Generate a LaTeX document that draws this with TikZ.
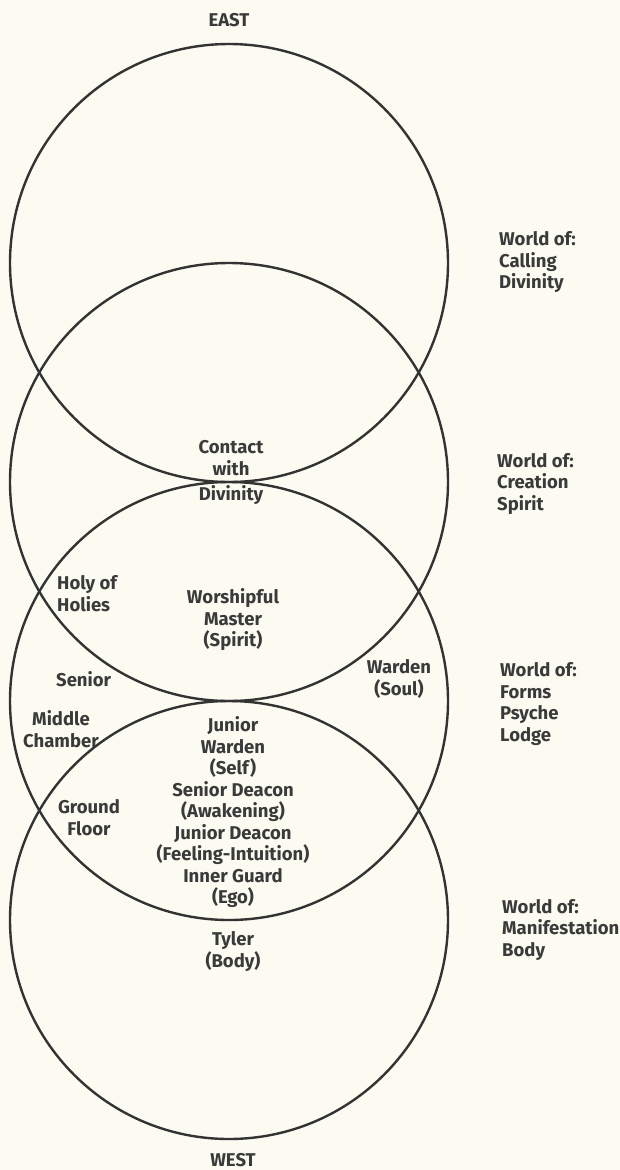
\documentclass[tikz,border=0pt]{standalone}
\usepackage{fontspec}
\setmainfont{Fira Sans}
\definecolor{paper}{HTML}{FCFBF1}
\definecolor{ink}{HTML}{333333}
\definecolor{txt}{HTML}{3A3A3A}
\begin{document}
\begin{tikzpicture}[x=1pt,y=-1pt,
  ring/.style={draw=ink,line width=2.4pt},
  lbl/.style={inner sep=0pt,text=txt,font=\fontsize{18.5}{21.5}\selectfont\bfseries,align=center},
  lbll/.style={lbl,align=left,anchor=west}]
\fill[paper] (0,0) rectangle (620,1170);
\useasboundingbox (0,0) rectangle (620,1170);
% circles
\node[ring,circle,minimum size=438pt,inner sep=0pt] (c1) at (229,263) {};
\node[ring,circle,minimum size=438pt,inner sep=0pt] (c2) at (229,482) {};
\node[ring,circle,minimum size=438pt,inner sep=0pt] (c3) at (229,701) {};
\node[ring,circle,minimum size=438pt,inner sep=0pt] (c4) at (229,920) {};
% labels
\node[lbl] (east) at (229,20) {EAST};
\node[lbl] (west) at (233,1160) {WEST};
\node[lbll] (w1) at (499,262.5) {World of:\\Calling\\Divinity};
\node[lbll] (w2) at (497,484) {World of:\\Creation\\Spirit};
\node[lbll] (w3) at (500,704) {World of:\\Forms\\Psyche\\Lodge};
\node[lbll] (w4) at (502,930) {World of:\\Manifestation\\Body};
\node[lbl] (contact) at (231,472.5) {Contact\\with\\[4pt]Divinity};
\node[lbll] (holy) at (57,593.5) {Holy of\\Holies};
\node[lbl] (wm) at (233,620) {Worshipful\\Master\\(Spirit)};
\node[lbll] (senior) at (56,679) {Senior};
\node[lbl] (warden) at (399,679) {Warden\\(Soul)};
\node[lbl] (middle) at (61,729) {Middle\\Chamber};
\node[lbl] (jw) at (233,812.5) {Junior\\Warden\\(Self)\\Senior Deacon\\(Awakening)\\Junior Deacon\\(Feeling-Intuition)\\Inner Guard\\(Ego)};
\node[lbl] (ground) at (89,817.5) {Ground\\Floor};
\node[lbl] (tyler) at (233,951.5) {Tyler\\(Body)};
\end{tikzpicture}
\end{document}
